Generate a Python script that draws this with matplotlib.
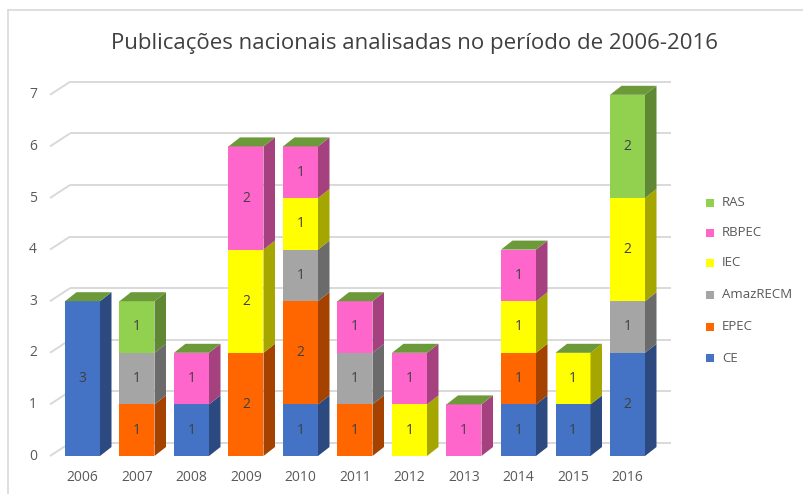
import matplotlib
matplotlib.use("Agg")
import matplotlib.pyplot as plt
from matplotlib.patches import Polygon, Rectangle
import numpy as np

years = ["2006", "2007", "2008", "2009", "2010", "2011", "2012", "2013", "2014", "2015", "2016"]
series_names = ["CE", "EPEC", "AmazRECM", "IEC", "RBPEC", "RAS"]
CE       = [3, 0, 1, 0, 1, 0, 0, 0, 1, 1, 2]
EPEC     = [0, 1, 0, 2, 2, 1, 0, 0, 1, 0, 0]
AmazRECM = [0, 1, 0, 0, 1, 1, 0, 0, 0, 0, 1]
IEC      = [0, 0, 0, 2, 1, 0, 1, 0, 1, 1, 2]
RBPEC    = [0, 0, 1, 2, 1, 1, 1, 1, 1, 0, 0]
RAS      = [0, 1, 0, 0, 0, 0, 0, 0, 0, 0, 2]
y_ticks = [0, 1, 2, 3, 4, 5, 6, 7]
title = "Publicações nacionais analisadas no período de 2006-2016"

front_colors = ["#4472C4", "#FF6600", "#A5A5A5", "#FFFF00", "#FF66CC", "#92D050"]
side_colors  = ["#2C4A80", "#A64200", "#6B6B6B", "#A6A600", "#A6417F", "#5F8734"]
top_color = "#6C9A3A"

values = [CE, EPEC, AmazRECM, IEC, RBPEC, RAS]

plt.rcParams['font.family'] = ['Open Sans', 'DejaVu Sans']

W, H = 804, 494
fig = plt.figure(figsize=(W / 100, H / 100), dpi=100)
ax = fig.add_axes([0, 0, 1, 1])
ax.set_axis_off()

# pixel scale -> data scale
x0_px, step_px = 82.5, 54.5
y0_px, unit_px = 456.0, 51.6
ax.set_xlim(-x0_px / step_px, (W - x0_px) / step_px)
ax.set_ylim((y0_px - H) / unit_px, y0_px / unit_px)

def px2x(px):
    return (px - x0_px) / step_px

def px_dy(p):
    return p / unit_px

bar_w = 35 / step_px
ddx = 11.5 / step_px
ddy = px_dy(9)
wall_dx0, wall_dx1 = px2x(50), px2x(70)
wall_dy = px_dy(13)
grid_c = "#D9D9D9"

# gridlines
for v in y_ticks:
    ax.plot([wall_dx0, wall_dx1], [v, v + wall_dy], color=grid_c, lw=1.4, zorder=1,
            solid_capstyle="butt")
    ax.plot([wall_dx1, px2x(671)], [v + wall_dy, v + wall_dy], color=grid_c, lw=1.4,
            zorder=1, solid_capstyle="butt")
    ax.text(px2x(33), v, str(v), ha="center", va="center", fontsize=10, color="#595959")

x = np.arange(len(years))
bottoms = np.zeros(len(years))
for si, vals in enumerate(values):
    vals = np.array(vals, dtype=float)
    ax.bar(x, vals, width=bar_w, bottom=bottoms, color=front_colors[si], zorder=3,
           linewidth=0)
    for i in range(len(years)):
        if vals[i] <= 0:
            continue
        xr = x[i] + bar_w / 2
        b, t = bottoms[i], bottoms[i] + vals[i]
        ax.add_patch(Polygon([(xr, b), (xr + ddx, b + ddy), (xr + ddx, t + ddy), (xr, t)],
                             closed=True, facecolor=side_colors[si], edgecolor="none",
                             zorder=3))
        ax.text(x[i], (b + t) / 2, str(int(vals[i])), ha="center", va="center",
                fontsize=10, color="#404040", zorder=5)
    bottoms = bottoms + vals

# top faces
for i in range(len(years)):
    xl = x[i] - bar_w / 2
    xr = x[i] + bar_w / 2
    t = bottoms[i]
    ax.add_patch(Polygon([(xl, t), (xl + ddx, t + ddy), (xr + ddx, t + ddy), (xr, t)],
                         closed=True, facecolor=top_color, edgecolor="none", zorder=4))
    ax.text(x[i], px_dy(456 - 477), years[i], ha="center", va="center", fontsize=10,
            color="#595959")

# title
ax.text(px2x(415), px_dy(456 - 43), title, ha="center", va="center", fontsize=16,
        color="#404040")

# legend (top to bottom: RAS ... CE)
leg_y = [203, 233, 263, 295, 327, 358]
for k, si in enumerate(range(len(series_names) - 1, -1, -1)):
    yc = px_dy(456 - leg_y[k])
    sq = 8
    ax.add_patch(Rectangle((px2x(706), yc - px_dy(sq / 2)), sq / step_px, px_dy(sq),
                           facecolor=front_colors[si], edgecolor="none"))
    ax.text(px2x(722), yc, series_names[si], ha="left", va="center", fontsize=9.5,
            color="#595959")

# chart frame
fig.add_artist(plt.Line2D([8 / W, 8 / W], [0, 1 - 10 / H], color=grid_c, lw=1.2))
fig.add_artist(plt.Line2D([8 / W, 1], [1 - 10 / H, 1 - 10 / H], color=grid_c, lw=1.2))

fig.savefig("out.png", dpi=100)
